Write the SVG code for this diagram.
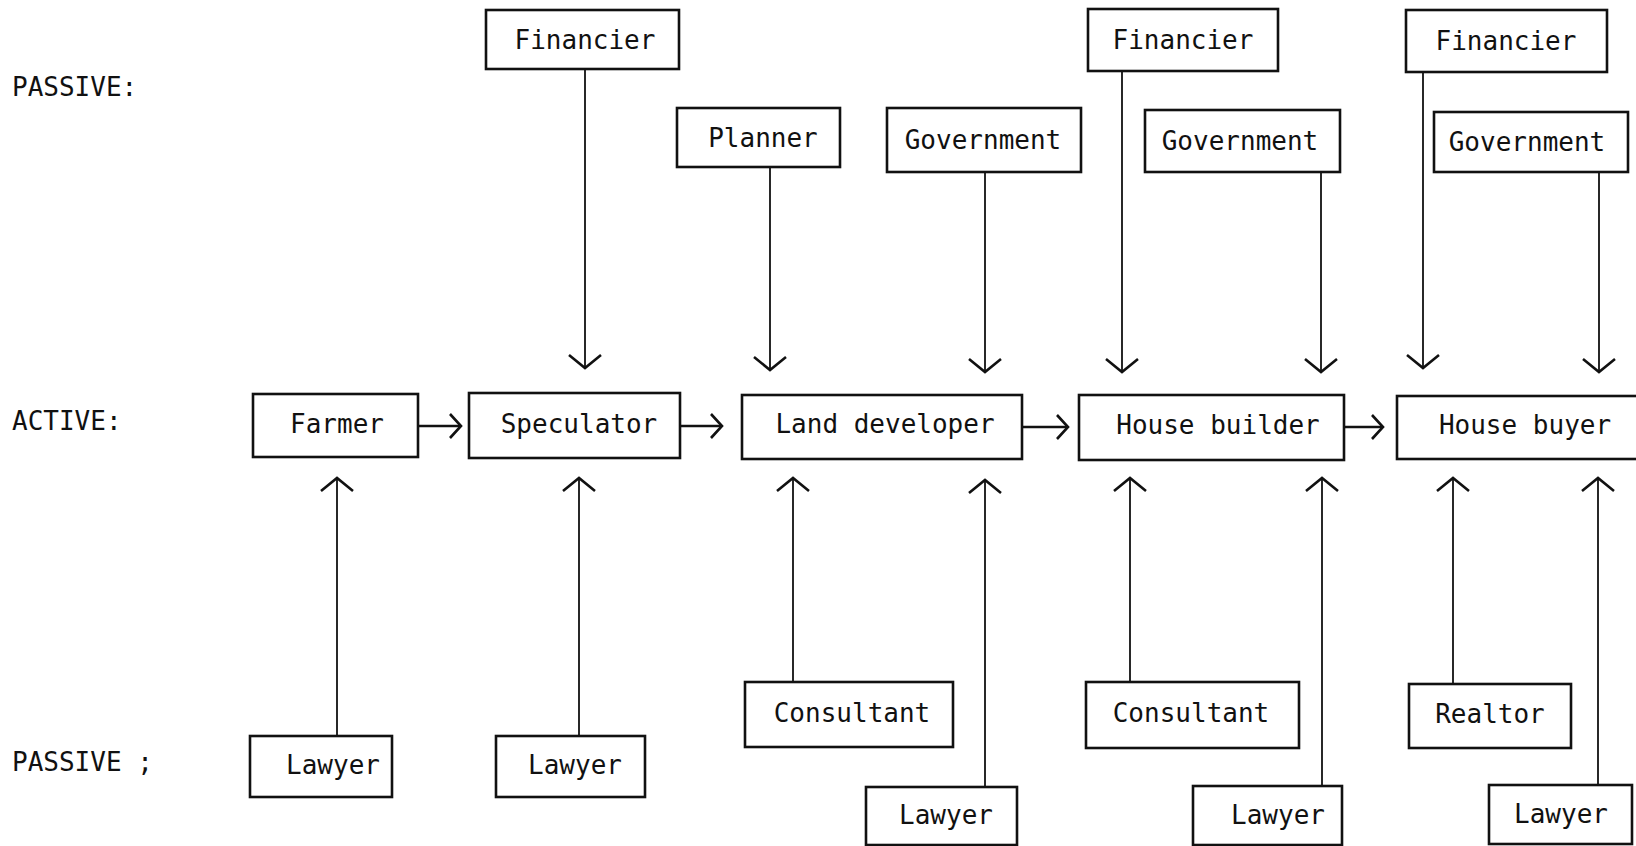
<svg xmlns="http://www.w3.org/2000/svg" width="1636" height="846" viewBox="0 0 1636 846">
<style>
  .box { fill: #fff; stroke: #111; stroke-width: 2.6; }
  .lbl { font-family: "DejaVu Sans Mono", "Liberation Mono", monospace; font-size: 26px; fill: #111; text-anchor: middle; }
  .side { font-family: "DejaVu Sans Mono", "Liberation Mono", monospace; font-size: 26px; fill: #111; }
  .con { stroke: #111; stroke-width: 1.8; fill: none; }
  .conv { marker-end: url(#av); }
  .conh { marker-end: url(#ah); stroke-width: 2.6; }
</style>
<defs>
  <marker id="av" markerUnits="userSpaceOnUse" orient="auto" refX="0" refY="0" markerWidth="40" markerHeight="40" overflow="visible">
    <path d="M-13,-16 L0,0 L-13,16" fill="none" stroke="#111" stroke-width="2.6" stroke-linejoin="miter"/>
  </marker>
  <marker id="ah" markerUnits="userSpaceOnUse" orient="auto" refX="0" refY="0" markerWidth="40" markerHeight="40" overflow="visible">
    <path d="M-11,-12 L0,0 L-11,12" fill="none" stroke="#111" stroke-width="2.6"/>
  </marker>
</defs>
<rect width="1636" height="846" fill="#fff"/>

<g id="row-labels">
  <text class="side" x="12" y="96">PASSIVE:</text>
  <text class="side" x="12" y="430">ACTIVE:</text>
  <text class="side" x="12" y="771">PASSIVE ;</text>
</g>

<g id="connectors">
  <line class="con conv" x1="585" y1="69" x2="585" y2="368"/>
  <line class="con conv" x1="770" y1="167" x2="770" y2="370"/>
  <line class="con conv" x1="985" y1="172" x2="985" y2="372"/>
  <line class="con conv" x1="1122" y1="71" x2="1122" y2="372"/>
  <line class="con conv" x1="1321" y1="172" x2="1321" y2="372"/>
  <line class="con conv" x1="1423" y1="72" x2="1423" y2="368"/>
  <line class="con conv" x1="1599" y1="172" x2="1599" y2="372"/>
  <line class="con conh" x1="418" y1="426" x2="461" y2="426"/>
  <line class="con conh" x1="680" y1="426" x2="722" y2="426"/>
  <line class="con conh" x1="1022" y1="427" x2="1068" y2="427"/>
  <line class="con conh" x1="1344" y1="427" x2="1383" y2="427"/>
  <line class="con conv" x1="337" y1="736" x2="337" y2="478"/>
  <line class="con conv" x1="579" y1="736" x2="579" y2="478"/>
  <line class="con conv" x1="793" y1="682" x2="793" y2="478"/>
  <line class="con conv" x1="985" y1="787" x2="985" y2="480"/>
  <line class="con conv" x1="1130" y1="682" x2="1130" y2="478"/>
  <line class="con conv" x1="1322" y1="786" x2="1322" y2="478"/>
  <line class="con conv" x1="1453" y1="684" x2="1453" y2="478"/>
  <line class="con conv" x1="1598" y1="785" x2="1598" y2="478"/>
</g>

<g id="financier-1"><rect class="box" x="486" y="10" width="193" height="59"/><text class="lbl" x="585" y="49">Financier</text></g>
<g id="planner"><rect class="box" x="677" y="108" width="163" height="59"/><text class="lbl" x="763" y="147">Planner</text></g>
<g id="government-1"><rect class="box" x="887" y="108" width="194" height="64"/><text class="lbl" x="983" y="149">Government</text></g>
<g id="financier-2"><rect class="box" x="1088" y="9" width="190" height="62"/><text class="lbl" x="1183" y="49">Financier</text></g>
<g id="government-2"><rect class="box" x="1145" y="110" width="195" height="62"/><text class="lbl" x="1240" y="150">Government</text></g>
<g id="financier-3"><rect class="box" x="1406" y="10" width="201" height="62"/><text class="lbl" x="1506" y="50">Financier</text></g>
<g id="government-3"><rect class="box" x="1434" y="112" width="194" height="60"/><text class="lbl" x="1527" y="151">Government</text></g>

<g id="farmer"><rect class="box" x="253" y="394" width="165" height="63"/><text class="lbl" x="337" y="433">Farmer</text></g>
<g id="speculator"><rect class="box" x="469" y="393" width="211" height="65"/><text class="lbl" x="579" y="433">Speculator</text></g>
<g id="land-developer"><rect class="box" x="742" y="395" width="280" height="64"/><text class="lbl" x="885" y="433">Land developer</text></g>
<g id="house-builder"><rect class="box" x="1079" y="395" width="265" height="65"/><text class="lbl" x="1218" y="434">House builder</text></g>
<g id="house-buyer"><rect class="box" x="1397" y="396" width="260" height="63"/><text class="lbl" x="1525" y="434">House buyer</text></g>

<g id="lawyer-1"><rect class="box" x="250" y="736" width="142" height="61"/><text class="lbl" x="333" y="774">Lawyer</text></g>
<g id="lawyer-2"><rect class="box" x="496" y="736" width="149" height="61"/><text class="lbl" x="575" y="774">Lawyer</text></g>
<g id="consultant-1"><rect class="box" x="745" y="682" width="208" height="65"/><text class="lbl" x="852" y="722">Consultant</text></g>
<g id="lawyer-3"><rect class="box" x="866" y="787" width="151" height="58"/><text class="lbl" x="946" y="824">Lawyer</text></g>
<g id="consultant-2"><rect class="box" x="1086" y="682" width="213" height="66"/><text class="lbl" x="1191" y="722">Consultant</text></g>
<g id="lawyer-4"><rect class="box" x="1193" y="786" width="149" height="59"/><text class="lbl" x="1278" y="824">Lawyer</text></g>
<g id="realtor"><rect class="box" x="1409" y="684" width="162" height="64"/><text class="lbl" x="1490" y="723">Realtor</text></g>
<g id="lawyer-5"><rect class="box" x="1489" y="785" width="143" height="59"/><text class="lbl" x="1561" y="823">Lawyer</text></g>
</svg>
